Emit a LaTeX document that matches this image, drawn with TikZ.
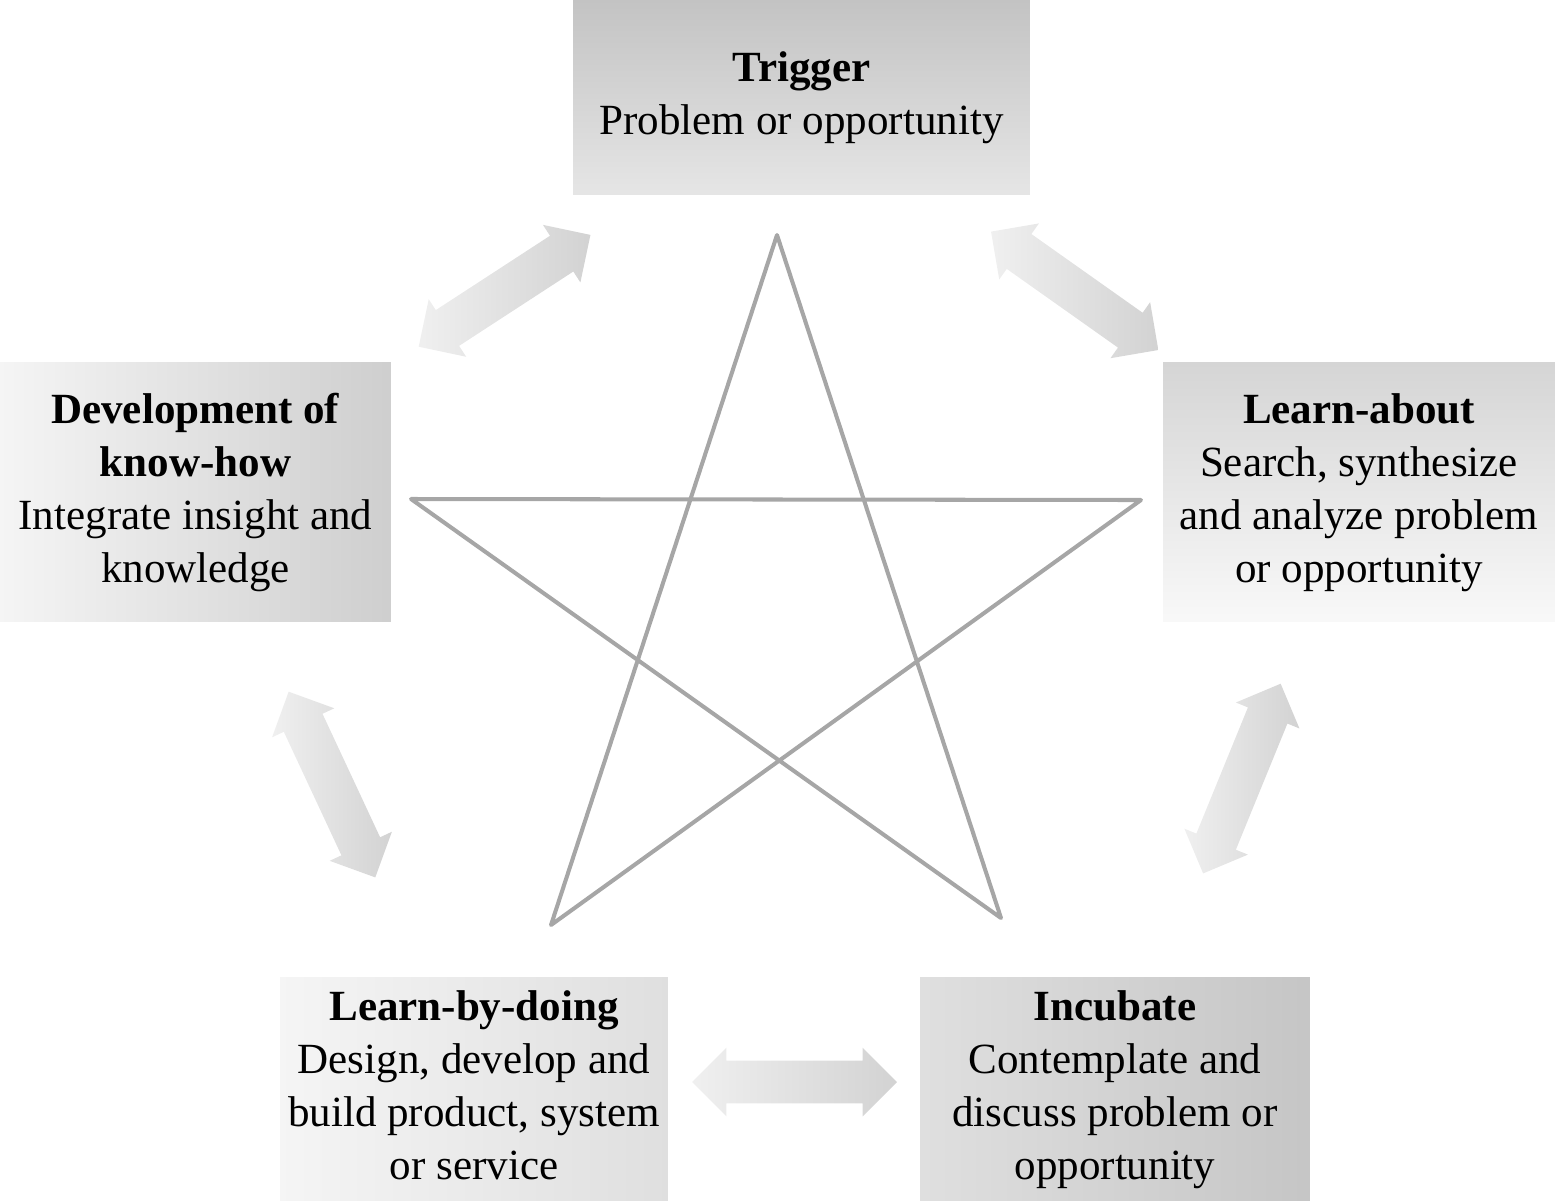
\documentclass[tikz,border=0pt]{standalone}
\usepackage{fontspec}
\setmainfont{Liberation Serif}
\usetikzlibrary{shapes.arrows}
\tikzset{
  stage/.style={rectangle, align=center, inner sep=0pt, font=\fontsize{24.5}{30.2}\selectfont},
  biarrow/.style={double arrow, double arrow head extend=0.26cm, minimum height=4.1cm,
    minimum width=1.36cm, inner xsep=0pt, inner ysep=0.42cm, left color=gray!12, right color=gray!35, sloped}
}
\begin{document}
\begin{tikzpicture}[x=0.02cm, y=0.02cm]
  \useasboundingbox (0,0) rectangle (1555,-1201);
  % the five stages
  \node[stage, minimum width=9.14cm, minimum height=3.9cm, top color=gray!47, bottom color=gray!20]
    (trig) at (801.5,-97.5) {\strut\textbf{Trigger}\\Problem or opportunity\strut};
  \node[stage, minimum width=7.82cm, minimum height=5.2cm, left color=gray!8, right color=gray!38]
    (dev) at (195.5,-492) {\strut\textbf{Development of}\\\textbf{know-how}\\Integrate insight and\\knowledge\strut};
  \node[stage, minimum width=7.84cm, minimum height=5.2cm, top color=gray!33, bottom color=gray!5]
    (learn) at (1359,-492) {\strut\textbf{Learn-about}\\Search, synthesize\\and analyze problem\\or opportunity\strut};
  \node[stage, minimum width=7.76cm, minimum height=4.48cm, left color=gray!8, right color=gray!25]
    (doing) at (474,-1089) {\strut\textbf{Learn-by-doing}\\Design, develop and\\build product, system\\or service\strut};
  \node[stage, minimum width=7.8cm, minimum height=4.48cm, left color=gray!25, right color=gray!45]
    (incub) at (1115,-1089) {\strut\textbf{Incubate}\\Contemplate and\\discuss problem or\\opportunity\strut};
  % star in the middle
  \coordinate (s1) at (777,-235);
  \coordinate (s2) at (551,-925);
  \coordinate (s3) at (1141,-500);
  \coordinate (s4) at (411,-499);
  \coordinate (s5) at (1001,-918);
  \draw[gray!70, line width=2.3pt, line join=round] (s1) -- (s2) -- (s3) -- (s4) -- (s5) -- cycle;
  % double arrows between the stages
  \path (trig.center) -- (dev.center) node[biarrow, pos=0.49] (a1) {};
  \path (trig.center) -- (learn.center) node[biarrow, pos=0.49] (a2) {};
  \path (learn.center) -- (incub.center) node[biarrow, pos=0.48] (a3) {};
  \path (doing.center) -- (incub.center) node[biarrow, pos=0.5, yshift=0.14cm] (a4) {};
  \path (dev.center) -- (doing.center) node[biarrow, pos=0.49] (a5) {};
\end{tikzpicture}
\end{document}
